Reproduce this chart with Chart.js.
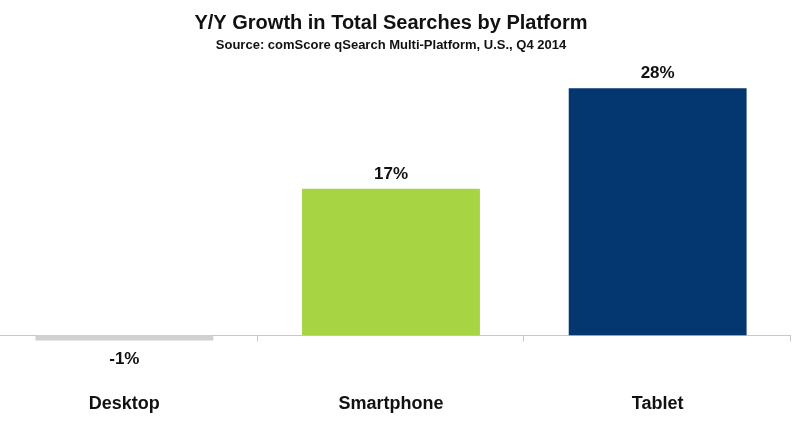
<!DOCTYPE html>
<html>
<head>
<meta charset="utf-8">
<script src="https://cdn.jsdelivr.net/npm/chart.js@4"></script>
<style>
html,body{margin:0;padding:0;background:#fff;overflow:hidden;}
#wrap{position:absolute;left:-9px;top:0;width:809px;height:425px;}
</style>
</head>
<body>
<div id="wrap"><canvas id="c"></canvas></div>
<script>
const categories = ["Desktop", "Smartphone", "Tablet"];
const growthValues = [-0.6, 16.6, 28];
const barColors = ["#d0d0d0", "#a6d443", "#04376f"];
const titleText = "Y/Y Growth in Total Searches by Platform";
const subtitleText = "Source: comScore qSearch Multi-Platform, U.S., Q4 2014";

const FONT = "'Liberation Sans', Arial, sans-serif";

const axisLine = {
  id: 'axisLine',
  beforeDatasetsDraw(chart) {
    const ctx = chart.ctx, x = chart.scales.x, y = chart.scales.y;
    const y0 = Math.round(y.getPixelForValue(0)) + 0.5;
    const area = chart.chartArea;
    ctx.save();
    ctx.strokeStyle = '#c8c8c8';
    ctx.lineWidth = 1;
    ctx.beginPath();
    ctx.moveTo(area.left, y0);
    ctx.lineTo(area.right, y0);
    const half = (x.getPixelForValue(1) - x.getPixelForValue(0)) / 2;
    for (let i = 0; i < categories.length; i++) {
      const bx = Math.round(x.getPixelForValue(i) + half) - 0.5;
      ctx.moveTo(bx, y0);
      ctx.lineTo(bx, y0 + 6);
    }
    ctx.stroke();
    ctx.restore();
  }
};

const valueLabels = {
  id: 'valueLabels',
  afterDatasetsDraw(chart) {
    const ctx = chart.ctx;
    const meta = chart.getDatasetMeta(0);
    ctx.save();
    ctx.font = "bold 17px " + FONT;
    ctx.fillStyle = '#111';
    ctx.textAlign = 'center';
    meta.data.forEach((bar, i) => {
      const v = growthValues[i];
      const txt = Math.round(v) + '%';
      if (v >= 0) {
        ctx.textBaseline = 'bottom';
        ctx.fillText(txt, bar.x, bar.y - 6);
      } else {
        ctx.textBaseline = 'top';
        ctx.fillText(txt, bar.x, bar.y + 10);
      }
    });
    ctx.restore();
  }
};

new Chart(document.getElementById('c'), {
  type: 'bar',
  data: {
    labels: categories,
    datasets: [{
      data: growthValues,
      backgroundColor: barColors,
      borderWidth: 0,
      categoryPercentage: 1,
      barPercentage: 0.667
    }]
  },
  options: {
    responsive: true,
    maintainAspectRatio: false,
    animation: false,
    layout: { padding: { left: 0, right: 9, top: 4, bottom: 4 } },
    plugins: {
      legend: { display: false },
      tooltip: { enabled: false },
      title: {
        display: true,
        text: titleText,
        color: '#111',
        font: { family: FONT, size: 20, weight: 'bold' },
        padding: { top: 7, bottom: 0 }
      },
      subtitle: {
        display: true,
        text: subtitleText,
        color: '#111',
        font: { family: FONT, size: 13, weight: 'bold' },
        padding: { top: 3, bottom: 17 }
      }
    },
    scales: {
      x: {
        offset: true,
        grid: { display: false },
        border: { display: false },
        ticks: {
          color: '#111',
          font: { family: FONT, size: 18, weight: 'bold' },
          padding: 6
        }
      },
      y: {
        display: false,
        min: -5,
        max: 30
      }
    }
  },
  plugins: [axisLine, valueLabels]
});
</script>
</body>
</html>
